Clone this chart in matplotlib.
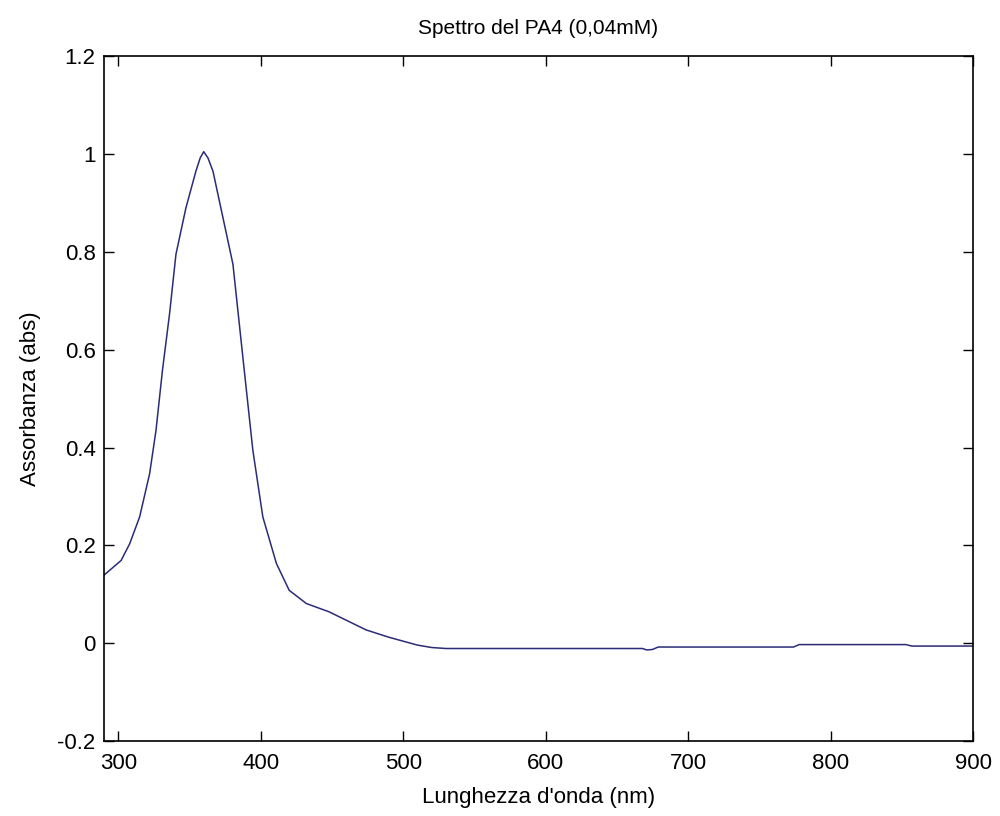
import numpy as np
import matplotlib.pyplot as plt

# wavelength (nm) and absorbance
wavelength = [290, 302, 308, 315, 322, 326.5, 331, 336, 340.5, 347.5, 354.5, 357.5, 360,
              363, 366.5, 373.5, 380.5, 387.5, 394.5, 401.5, 411, 420, 432, 448, 474,
              490, 500, 510, 520, 530, 600, 668, 671, 675, 679, 700, 774, 778,
              800, 853, 857, 880, 900]
absorbance = [0.139, 0.169, 0.203, 0.258, 0.346, 0.435, 0.557, 0.673, 0.795, 0.890,
              0.965, 0.992, 1.005, 0.992, 0.965, 0.870, 0.775, 0.584, 0.394, 0.258, 0.163,
              0.108, 0.081, 0.064, 0.027, 0.012, 0.004, -0.004, -0.009, -0.011, -0.011,
              -0.011, -0.014, -0.013, -0.008, -0.008, -0.008, -0.003, -0.003,
              -0.003, -0.006, -0.006, -0.006]

xticks = [300, 400, 500, 600, 700, 800, 900]
yticks = [-0.2, 0, 0.2, 0.4, 0.6, 0.8, 1, 1.2]
ytick_labels = ['-0.2', '0', '0.2', '0.4', '0.6', '0.8', '1', '1.2']

plt.rcParams['font.family'] = ['Liberation Sans Narrow', 'Liberation Sans', 'DejaVu Sans']

fig = plt.figure(figsize=(10, 8.16), dpi=100)
ax = fig.add_axes([0.104, 0.092, 0.869, 0.839])

ax.plot(wavelength, absorbance, color='#2b2b78', linewidth=1.1)

ax.set_xlim(290, 900)
ax.set_ylim(-0.2, 1.2)
ax.set_xticks(xticks)
ax.set_yticks(yticks)
ax.set_yticklabels(ytick_labels)
ax.tick_params(direction='in', top=True, right=True, length=7, width=1,
               labelsize=16)
ax.tick_params(axis='x', pad=9)
ax.tick_params(axis='y', pad=6)
for s in ax.spines.values():
    s.set_linewidth(1.2)

ax.set_title("Spettro del PA4 (0,04mM)", fontsize=15, pad=16)
ax.set_xlabel("Lunghezza d'onda (nm)", fontsize=16, labelpad=9)
ax.set_ylabel("Assorbanza (abs)", fontsize=16, labelpad=12)

fig.savefig('out.png', dpi=100)
